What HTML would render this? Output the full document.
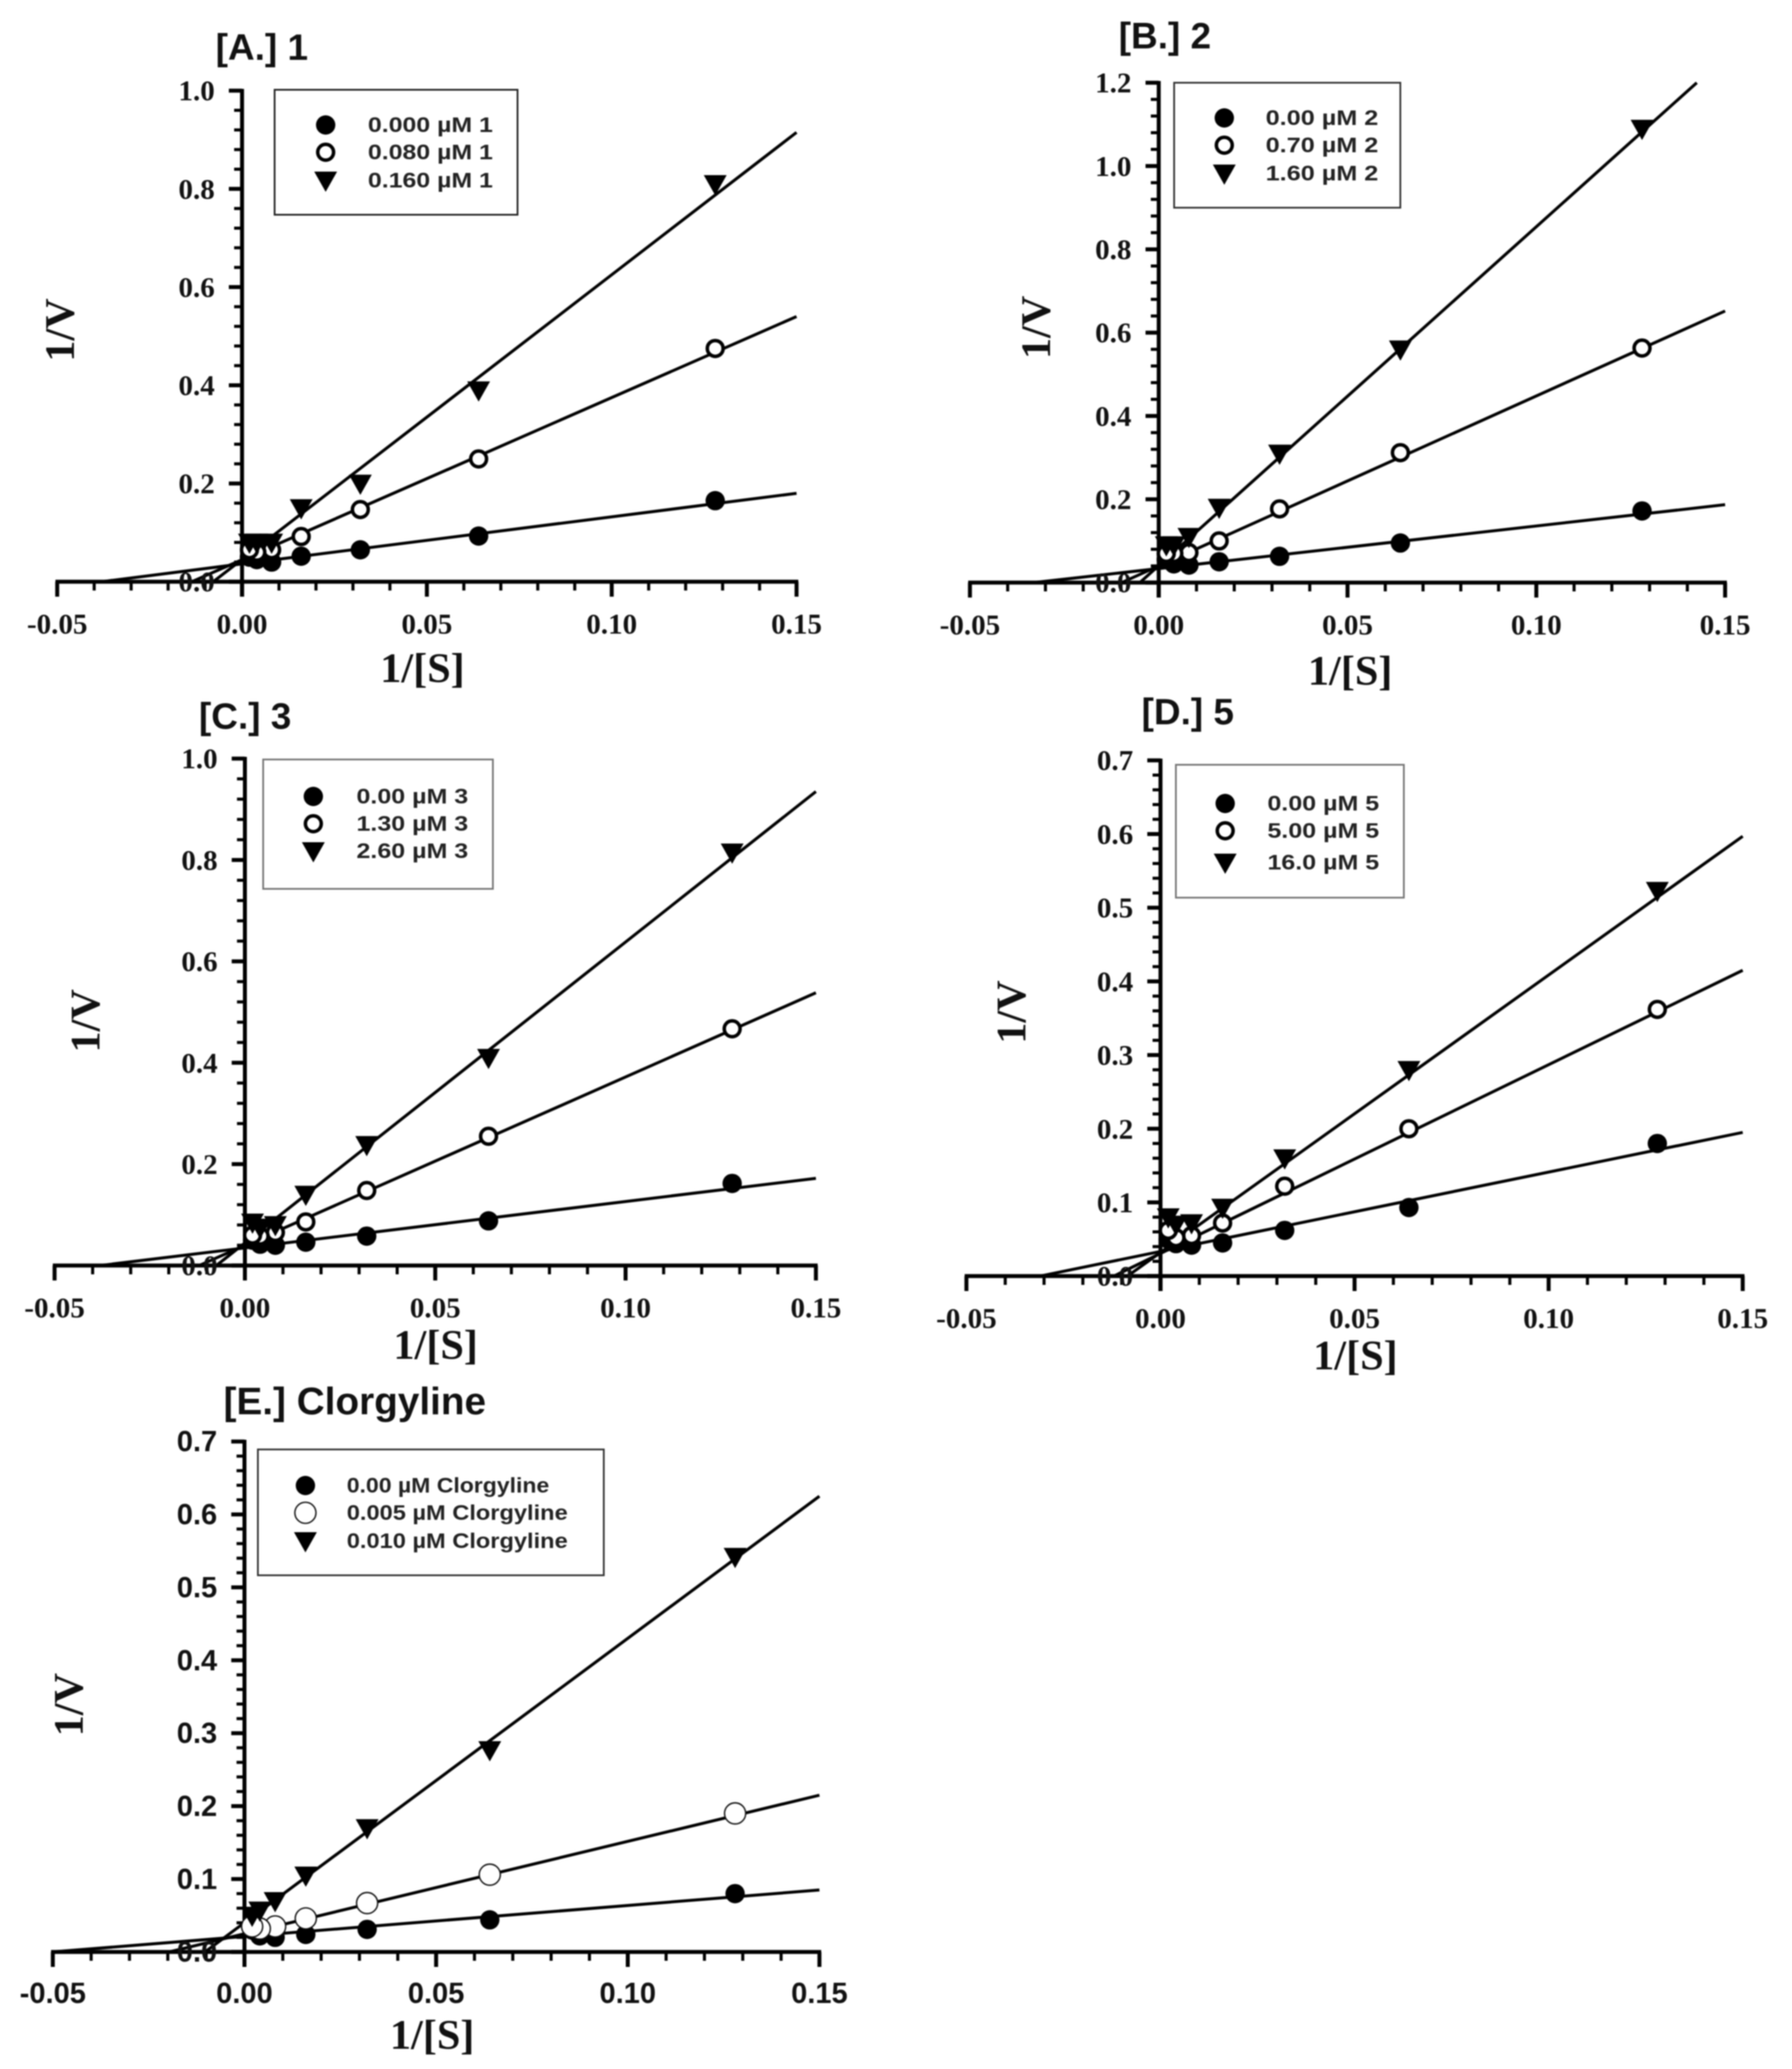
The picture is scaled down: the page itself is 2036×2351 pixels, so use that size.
<!DOCTYPE html>
<html lang="en">
<head>
<meta charset="utf-8">
<title>Lineweaver-Burk plots</title>
<style>
html,body{margin:0;padding:0;background:#fff}
svg{display:block;filter:blur(.9px)}
</style>
</head>
<body>
<svg id="figure" xmlns="http://www.w3.org/2000/svg" width="2036" height="2351" viewBox="0 0 2036 2351">
<rect width="2036" height="2351" fill="#fff"/>
</svg>
<script>
// Shared substrate axis values
const substrateX = [0.128, 0.064, 0.032, 0.016, 0.008, 0.004, 0.002];
const xTickLabels = ['-0.05', '0.00', '0.05', '0.10', '0.15'];
const xTickValues = [-0.05, 0, 0.05, 0.10, 0.15];

// Panel A
const aFilled = [0.165, 0.093, 0.065, 0.052, 0.040, 0.045, 0.050];
const aOpen = [0.475, 0.250, 0.147, 0.092, 0.065, 0.060, 0.065];
const aTriangle = [0.810, 0.390, 0.200, 0.150, 0.080, 0.080, 0.080];
const aFitX = [[-0.038, 0.15], [-0.0136, 0.15], [-0.0078, 0.15]];
const aFitY = [[0, 0.180], [0, 0.540], [0, 0.915]];
const aYTicks = [0, 0.2, 0.4, 0.6, 0.8, 1.0];
const aLegend = ['0.000 µM 1', '0.080 µM 1', '0.160 µM 1'];

// Panel B
const bFilled = [0.172, 0.095, 0.063, 0.050, 0.042, 0.045, 0.055];
const bOpen = [0.563, 0.312, 0.177, 0.100, 0.072, 0.070, 0.070];
const bTriangle = [1.090, 0.560, 0.310, 0.180, 0.110, 0.090, 0.090];
const bFitX = [[-0.033, 0.15], [-0.0098, 0.15], [-0.005, 0.1425]];
const bFitY = [[0, 0.187], [0, 0.652], [0, 1.200]];
const bYTicks = [0, 0.2, 0.4, 0.6, 0.8, 1.0, 1.2];
const bLegend = ['0.00 µM 2', '0.70 µM 2', '1.60 µM 2'];

// Panel C
const cFilled = [0.162, 0.088, 0.058, 0.046, 0.040, 0.042, 0.050];
const cOpen = [0.467, 0.255, 0.148, 0.086, 0.065, 0.058, 0.060];
const cTriangle = [0.815, 0.410, 0.238, 0.140, 0.080, 0.075, 0.085];
const cFitX = [[-0.038, 0.15], [-0.012, 0.15], [-0.0075, 0.15]];
const cFitY = [[0, 0.172], [0, 0.538], [0, 0.935]];
const cYTicks = [0, 0.2, 0.4, 0.6, 0.8, 1.0];
const cLegend = ['0.00 µM 3', '1.30 µM 3', '2.60 µM 3'];

// Panel D
const dFilled = [0.180, 0.093, 0.062, 0.045, 0.042, 0.044, 0.050];
const dOpen = [0.362, 0.200, 0.122, 0.072, 0.055, 0.052, 0.062];
const dTriangle = [0.523, 0.280, 0.160, 0.093, 0.072, 0.070, 0.080];
const dFitX = [[-0.031, 0.15], [-0.012, 0.15], [-0.0085, 0.15]];
const dFitY = [[0, 0.195], [0, 0.415], [0, 0.597]];
const dYTicks = [0, 0.1, 0.2, 0.3, 0.4, 0.5, 0.6, 0.7];
const dLegend = ['0.00 µM 5', '5.00 µM 5', '16.0 µM 5'];

// Panel E
const eFilled = [0.080, 0.044, 0.031, 0.024, 0.020, 0.022, 0.030];
const eOpen = [0.190, 0.106, 0.067, 0.046, 0.035, 0.032, 0.035];
const eTriangle = [0.542, 0.277, 0.170, 0.105, 0.070, 0.057, 0.050];
const eFitX = [[-0.05, 0.15], [-0.0197, 0.15], [-0.0103, 0.15]];
const eFitY = [[0, 0.085], [0, 0.215], [0, 0.625]];
const eYTicks = [0, 0.1, 0.2, 0.3, 0.4, 0.5, 0.6, 0.7];
const eLegend = ['0.00 µM Clorgyline', '0.005  µM Clorgyline', '0.010  µM Clorgyline'];

const SERIF = '"Liberation Serif", serif';
const SANS = '"Liberation Sans", sans-serif';
const svg = document.getElementById('figure');
const NS = 'http://www.w3.org/2000/svg';

function make(tag, attrs, parent) {
  const el = document.createElementNS(NS, tag);
  for (const k in attrs) el.setAttribute(k, attrs[k]);
  parent.appendChild(el);
  return el;
}

function marker(kind, cx, cy, g, thin) {
  let el;
  if (kind === 0) {
    el = make('circle', {cx: cx, cy: cy, r: 11, fill: '#000'}, g);
  } else if (kind === 1) {
    el = thin
      ? make('circle', {cx: cx, cy: cy, r: 12, fill: '#fff', stroke: '#111', 'stroke-width': 1.6}, g)
      : make('circle', {cx: cx, cy: cy, r: 9, fill: '#fff', stroke: '#000', 'stroke-width': 4}, g);
  } else {
    el = make('polygon', {points: (cx - 13) + ',' + (cy - 10) + ' ' + (cx + 13) + ',' + (cy - 10) + ' ' + cx + ',' + (cy + 13), fill: '#000'}, g);
  }
  return el;
}

function drawPanel(p) {
  const X = v => p.x0 + (v - (-0.05)) / 0.2 * (p.x1 - p.x0);
  const Y = v => p.y0 - v / p.yMax * (p.y0 - p.y1);
  const g = make('g', {}, svg);
  
  

  const title = make('text', {x: p.titleX, y: p.titleY, 'font-family': SANS, 'font-weight': 'bold', 'font-size': p.titleSize, fill: '#111'}, g);
  title.textContent = p.title;
  
  

  // fitted lines
  const seriesNames = ['control', 'low-dose', 'high-dose'];
  p.fitX.forEach((xs, i) => {
    const line = make('line', {x1: X(xs[0]), y1: Y(p.fitY[i][0]), x2: X(xs[1]), y2: Y(p.fitY[i][1]), stroke: '#000', 'stroke-width': 3.4}, g);
    
    
  });

  // x axis
  const xAxis = make('g', {}, g);
  
  
  make('line', {x1: X(-0.05) - 2, y1: p.y0, x2: X(0.15) + 2, y2: p.y0, stroke: '#000', 'stroke-width': 4.5}, xAxis);
  for (let i = 0; i <= 20; i++) {
    const major = i % 5 === 0;
    const tx = X(-0.05 + i * 0.01);
    make('line', {x1: tx, y1: p.y0, x2: tx, y2: p.y0 + (major ? 17 : 10), stroke: '#000', 'stroke-width': major ? 4.5 : 3.5}, xAxis);
  }
  xTickValues.forEach((v, i) => {
    const t = make('text', {x: X(v), y: p.y0 + p.xLabelDy, 'text-anchor': 'middle', 'font-family': p.tickFont, 'font-weight': 'bold', 'font-size': p.tickSize, fill: '#111'}, xAxis);
    t.textContent = xTickLabels[i];
    
    
  });
  const xTitle = make('text', {x: p.xTitleX, y: p.xTitleY, 'text-anchor': 'middle', 'font-family': SERIF, 'font-weight': 'bold', 'font-size': 48, fill: '#111'}, g);
  xTitle.textContent = '1/[S]';
  
  

  // y axis
  const yAxis = make('g', {}, g);
  
  
  make('line', {x1: X(0), y1: p.y1 - 2, x2: X(0), y2: p.y0 + 17, stroke: '#000', 'stroke-width': 4.5}, yAxis);
  const step = p.yTicks[1] - p.yTicks[0];
  const count = (p.yTicks.length - 1) * 5;
  for (let i = 0; i <= count; i++) {
    const major = i % 5 === 0;
    const ty = Y(i * step / 5);
    make('line', {x1: X(0), y1: ty, x2: X(0) - (major ? 15 : 9), y2: ty, stroke: '#000', 'stroke-width': major ? 4.5 : 3.5}, yAxis);
  }
  p.yTicks.forEach(v => {
    const t = make('text', {x: X(0) - 31, y: Y(v) + p.tickSize * 0.34, 'text-anchor': 'end', 'font-family': p.tickFont, 'font-weight': 'bold', 'font-size': p.tickSize, fill: '#111'}, yAxis);
    t.textContent = v.toFixed(1);
    
    
  });
  const yTitle = make('text', {transform: 'translate(' + p.yTitleX + ',' + p.yTitleY + ') rotate(-90)', 'text-anchor': 'middle', 'font-family': SERIF, 'font-weight': 'bold', 'font-size': 48, fill: '#111'}, g);
  yTitle.textContent = '1/V';
  
  

  // points
  [p.filled, p.open, p.triangle].forEach((vals, s) => {
    const sg = make('g', {}, g);
    
    
    vals.forEach((v, i) => {
      const m = marker(s, X(substrateX[i]), Y(v), sg, p.thinOpen);
      
      
    });
  });

  // legend
  const leg = make('g', {}, g);
  
  
  const box = make('rect', {x: p.box[0], y: p.box[1], width: p.box[2], height: p.box[3], fill: '#fff', stroke: p.boxStroke, 'stroke-width': 2}, leg);
  
  
  p.legend.forEach((label, i) => {
    const m = marker(i, p.legMarkerX, p.legRows[i], leg, p.thinOpen);
    
    
    const t = make('text', {x: p.legTextX, y: p.legRows[i] + 8, 'font-family': SANS, 'font-weight': 'bold', 'font-size': 24, fill: '#222', textLength: p.legWidths[i], lengthAdjust: 'spacingAndGlyphs', 'xml:space': 'preserve'}, leg);
    t.textContent = label;
    
    
  });
}

drawPanel({id: 'a', title: '[A.] 1', titleSize: 42, titleX: 245, titleY: 68, x0: 65, x1: 905, y0: 661, y1: 103, yMax: 1.0,
  filled: aFilled, open: aOpen, triangle: aTriangle, fitX: aFitX, fitY: aFitY, yTicks: aYTicks, legend: aLegend,
  tickFont: SERIF, tickSize: 33, xLabelDy: 59, xTitleX: 480, xTitleY: 775, yTitleX: 84, yTitleY: 375,
  box: [312, 102, 276, 142], boxStroke: '#222', legMarkerX: 370, legRows: [142, 173, 205], legTextX: 418, legWidths: [142, 142, 142]});
drawPanel({id: 'b', title: '[B.] 2', titleSize: 42, titleX: 1271, titleY: 55, x0: 1102, x1: 1960, y0: 662, y1: 94, yMax: 1.2,
  filled: bFilled, open: bOpen, triangle: bTriangle, fitX: bFitX, fitY: bFitY, yTicks: bYTicks, legend: bLegend,
  tickFont: SERIF, tickSize: 33, xLabelDy: 59, xTitleX: 1534, xTitleY: 778, yTitleX: 1193, yTitleY: 372,
  box: [1334, 94, 257, 142], boxStroke: '#333', legMarkerX: 1391, legRows: [134, 165, 197], legTextX: 1438, legWidths: [128, 128, 128]});
drawPanel({id: 'c', title: '[C.] 3', titleSize: 42, titleX: 226, titleY: 828, x0: 62, x1: 927, y0: 1438, y1: 862, yMax: 1.0,
  filled: cFilled, open: cOpen, triangle: cTriangle, fitX: cFitX, fitY: cFitY, yTicks: cYTicks, legend: cLegend,
  tickFont: SERIF, tickSize: 33, xLabelDy: 59, xTitleX: 495, xTitleY: 1544, yTitleX: 113, yTitleY: 1160,
  box: [299, 863, 261, 147], boxStroke: '#777', legMarkerX: 356, legRows: [905, 936, 967], legTextX: 405, legWidths: [127, 127, 127]});
drawPanel({id: 'd', title: '[D.] 5', titleSize: 42, titleX: 1297, titleY: 823, x0: 1098, x1: 1980, y0: 1450, y1: 864, yMax: 0.7,
  filled: dFilled, open: dOpen, triangle: dTriangle, fitX: dFitX, fitY: dFitY, yTicks: dYTicks, legend: dLegend,
  tickFont: SERIF, tickSize: 33, xLabelDy: 59, xTitleX: 1540, xTitleY: 1556, yTitleX: 1165, yTitleY: 1150,
  box: [1336, 869, 259, 151], boxStroke: '#777', legMarkerX: 1392, legRows: [913, 944, 980], legTextX: 1440, legWidths: [127, 127, 127]});
drawPanel({id: 'e', title: '[E.] Clorgyline', titleSize: 44, titleX: 254, titleY: 1607, x0: 60, x1: 931, y0: 2218, y1: 1638, yMax: 0.7,
  filled: eFilled, open: eOpen, triangle: eTriangle, fitX: eFitX, fitY: eFitY, yTicks: eYTicks, legend: eLegend,
  tickFont: SANS, tickSize: 33, xLabelDy: 58, xTitleX: 491, xTitleY: 2328, yTitleX: 94, yTitleY: 1937, thinOpen: true,
  box: [293, 1647, 393, 143], boxStroke: '#333', legMarkerX: 347, legRows: [1688, 1719, 1751], legTextX: 394, legWidths: [230, 251, 251]});
</script>
</body>
</html>
